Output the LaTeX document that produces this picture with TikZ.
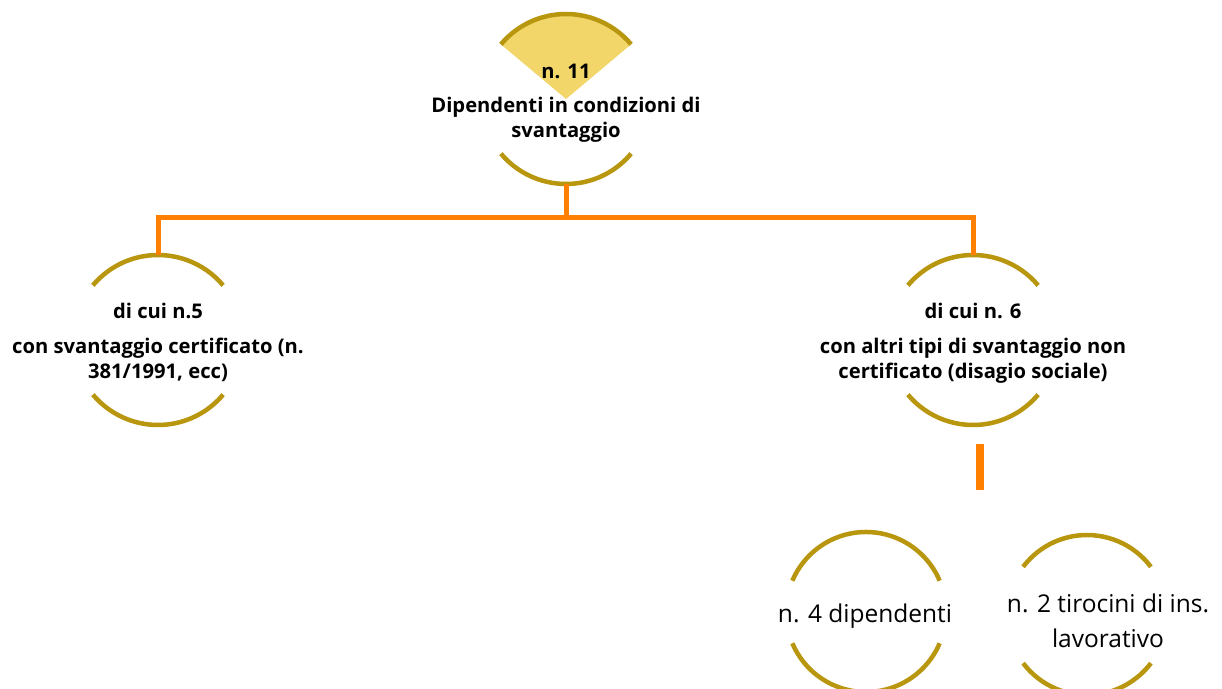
\documentclass[tikz,border=0pt]{standalone}
\usepackage{fontspec}
\setmainfont{Open Sans}
\usetikzlibrary{calc}
\definecolor{gold}{RGB}{184,150,14}
\definecolor{goldfill}{RGB}{242,214,106}
\definecolor{orng}{RGB}{255,127,0}
\tikzset{
  ring/.style={circle, minimum size=170pt, inner sep=0pt, draw=none},
  smallring/.style={circle, minimum size=160pt, inner sep=0pt, draw=none},
  arcline/.style={draw=gold, line width=4.5pt},
  conn/.style={draw=orng, line width=5pt},
  stub/.style={draw=orng, line width=8pt},
  boldtxt/.style={font=\fontsize{20.2}{25}\selectfont\bfseries, align=center, inner sep=0pt},
  plaintxt/.style={font=\fontsize{24.5}{35}\selectfont, align=center, inner sep=0pt},
}
\newcommand\ringarcs[3]{%
  \draw[arcline] ($(#1.center)+(#3:#2)$) arc[start angle=#3, end angle=180-#3, radius=#2];
  \draw[arcline] ($(#1.center)+(180+#3:#2)$) arc[start angle=180+#3, end angle=360-#3, radius=#2];
}
\begin{document}
\begin{tikzpicture}[x=1pt,y=1pt]
\useasboundingbox[fill=white] (0,0) rectangle (1222,688);
\node[ring] (top) at (566,589) {};
\node[ring] (left) at (158,348) {};
\node[ring] (right) at (973,348) {};
\node[smallring] (emp) at (866,76) {};
\node[smallring] (tir) at (1087,73) {};
\fill[goldfill] (top.center) -- ++(40:85) arc[start angle=40, end angle=140, radius=85] -- cycle;
\ringarcs{top}{85}{40}
\ringarcs{left}{85}{40}
\ringarcs{right}{85}{40}
\ringarcs{emp}{80}{23}
\ringarcs{tir}{80}{37}
\node[boldtxt] (toptxt) at (566,585) {n. 11\\[9pt]Dipendenti in condizioni di\\svantaggio};
\node[boldtxt] (lefttxt) at (158,346) {di cui n.5\\[10pt]con svantaggio certificato (n.\\381/1991, ecc)};
\node[boldtxt] (righttxt) at (973,345) {di cui n. 6\\[10pt]con altri tipi di svantaggio non\\certificato (disagio sociale)};
\node[plaintxt] (emptxt) at (865,72) {n. 4 dipendenti};
\node[plaintxt] (tirtxt) at (1108,67) {n. 2 tirocini di ins.\\lavorativo};
\coordinate (bus) at (566,470);
\draw[conn] (top.south) -- (bus);
\draw[conn] (bus) -| (left.north);
\draw[conn] (bus) -| (right.north);
\coordinate (stubA) at (980,244);
\coordinate (stubB) at (980,198);
\draw[stub] (stubA) -- (stubB);
\end{tikzpicture}
\end{document}
